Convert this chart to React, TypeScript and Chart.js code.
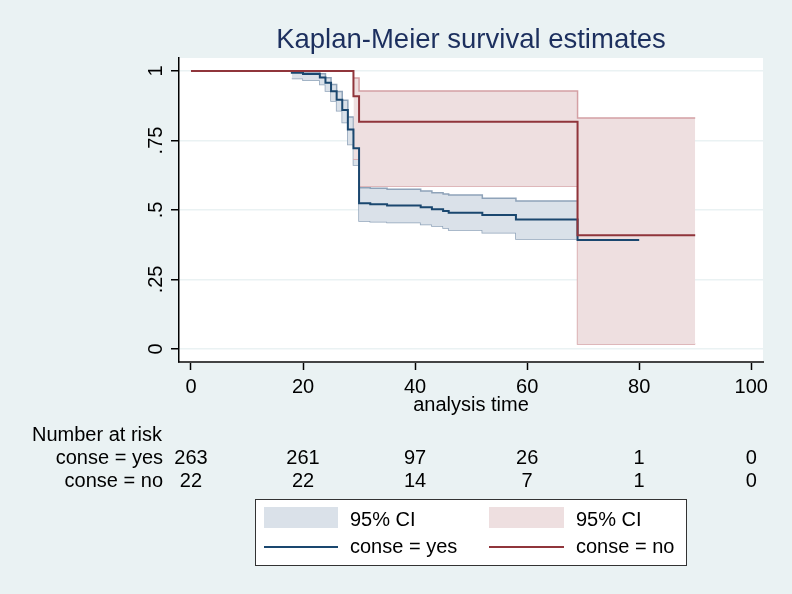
import React, { useEffect, useRef } from 'react';
import Chart from 'chart.js/auto';

// axis ticks
const xTicks = [0, 20, 40, 60, 80, 100];
const yTicks = [0, 0.25, 0.5, 0.75, 1];
const yTickLabels = ['0', '.25', '.5', '.75', '1'];

// conse = yes: KM estimate
const yesTime = [0, 18, 20, 23, 24, 25, 26, 27, 28, 29, 30, 32, 35, 41, 43, 45, 46, 52, 58, 69, 80];
const yesSurv = [1, 0.994, 0.989, 0.977, 0.958, 0.927, 0.897, 0.86, 0.79, 0.722, 0.524, 0.521, 0.516, 0.51, 0.503, 0.496, 0.49, 0.482, 0.466, 0.392, 0.392];
// conse = yes: 95% CI
const yesCiTime = [18, 20, 23, 24, 25, 26, 27, 28, 29, 30, 32, 35, 41, 43, 45, 46, 52, 58, 69];
const yesLower = [0.973, 0.967, 0.952, 0.928, 0.892, 0.857, 0.815, 0.736, 0.662, 0.46, 0.458, 0.455, 0.448, 0.442, 0.435, 0.428, 0.418, 0.396, 0.396];
const yesUpper = [0.999, 0.997, 0.99, 0.976, 0.952, 0.926, 0.895, 0.835, 0.775, 0.58, 0.578, 0.575, 0.568, 0.562, 0.558, 0.554, 0.542, 0.532, 0.532];

// conse = no: KM estimate
const noTime = [0, 29, 30, 69, 90];
const noSurv = [1, 0.909, 0.818, 0.409, 0.409];
// conse = no: 95% CI
const noCiTime = [29, 30, 69, 90];
const noLower = [0.683, 0.586, 0.018, 0.018];
const noUpper = [0.975, 0.928, 0.831, 0.831];

// number at risk table
const groupLabels = ['conse = yes', 'conse = no'];
const riskYes = [263, 261, 97, 26, 1, 0];
const riskNo = [22, 22, 14, 7, 1, 0];

const FONT = '"Liberation Sans", Arial, sans-serif';
const BG = '#eaf2f3';
const BLUE = '#1a476f';
const RED = '#90353b';
const BLUE_FILL = '#dae1e9';
const BLUE_EDGE = '#8fa3b9';
const RED_FILL = '#eedfe0';
const RED_EDGE = '#d4a0a4';

const pts = (xs: number[], ys: number[]) => xs.map((x, i) => ({ x, y: ys[i] }));

const decor = {
  id: 'kmDecor',
  beforeDraw(chart: any) {
    const { ctx, chartArea: a, width, height } = chart;
    ctx.save();
    ctx.fillStyle = BG;
    ctx.fillRect(0, 0, width, height);
    ctx.fillStyle = '#ffffff';
    ctx.fillRect(a.left, a.top, a.right - a.left, a.bottom - a.top);
    ctx.restore();
  },
  afterDraw(chart: any) {
    const { ctx, chartArea: a } = chart;
    const xs = chart.scales.x;
    const ys = chart.scales.y;
    const cx = (a.left + a.right) / 2;
    ctx.save();

    // title
    ctx.fillStyle = '#1c2f5e';
    ctx.font = `27.5px ${FONT}`;
    ctx.textAlign = 'center';
    ctx.textBaseline = 'alphabetic';
    ctx.fillText('Kaplan-Meier survival estimates', cx, 48);

    ctx.fillStyle = '#000';
    ctx.font = `20px ${FONT}`;

    // y tick labels, rotated
    yTicks.forEach((v, i) => {
      ctx.save();
      ctx.translate(162, ys.getPixelForValue(v));
      ctx.rotate(-Math.PI / 2);
      ctx.textAlign = 'center';
      ctx.fillText(yTickLabels[i], 0, 0);
      ctx.restore();
    });

    // x tick labels + axis title
    ctx.textAlign = 'center';
    xTicks.forEach((v) => ctx.fillText(String(v), xs.getPixelForValue(v), 393));
    ctx.fillText('analysis time', cx, 411);

    // number at risk
    ctx.textAlign = 'left';
    ctx.fillText('Number at risk', 32, 441);
    ctx.textAlign = 'right';
    ctx.fillText(groupLabels[0], 163, 464);
    ctx.fillText(groupLabels[1], 163, 487);
    ctx.textAlign = 'center';
    xTicks.forEach((v, i) => {
      const px = xs.getPixelForValue(v);
      ctx.fillText(String(riskYes[i]), px, 464);
      ctx.fillText(String(riskNo[i]), px, 487);
    });

    // legend box
    ctx.fillStyle = '#ffffff';
    ctx.fillRect(255, 499, 431, 66);
    ctx.strokeStyle = '#333';
    ctx.lineWidth = 1;
    ctx.strokeRect(255.5, 499.5, 431, 66);

    ctx.fillStyle = BLUE_FILL;
    ctx.fillRect(264, 507, 74, 21);
    ctx.fillStyle = RED_FILL;
    ctx.fillRect(489, 507, 75, 21);

    ctx.lineWidth = 2;
    ctx.strokeStyle = BLUE;
    ctx.beginPath();
    ctx.moveTo(264, 547);
    ctx.lineTo(338, 547);
    ctx.stroke();
    ctx.strokeStyle = RED;
    ctx.beginPath();
    ctx.moveTo(489, 547);
    ctx.lineTo(564, 547);
    ctx.stroke();

    ctx.fillStyle = '#000';
    ctx.textAlign = 'left';
    ctx.fillText('95% CI', 350, 526);
    ctx.fillText('95% CI', 576, 526);
    ctx.fillText(groupLabels[0], 350, 553);
    ctx.fillText(groupLabels[1], 576, 553);

    ctx.restore();
  },
};

const App: React.FC = () => {
  const canvasRef = useRef<HTMLCanvasElement>(null);
  const chartRef = useRef<Chart | null>(null);

  useEffect(() => {
    if (!canvasRef.current) return;
    if (chartRef.current) chartRef.current.destroy();

    const line = (data: any, color: string) => ({
      data,
      borderColor: color,
      borderWidth: 2,
      stepped: true,
      pointRadius: 0,
      fill: false,
    });
    const edge = (data: any, color: string, fill: any, bg: string) => ({
      data,
      borderColor: color,
      borderWidth: 1.5,
      backgroundColor: bg,
      stepped: true,
      pointRadius: 0,
      fill,
    });

    chartRef.current = new Chart(canvasRef.current, {
      type: 'line',
      data: {
        datasets: [
          line(pts(noTime, noSurv), RED),
          line(pts(yesTime, yesSurv), BLUE),
          edge(pts(noCiTime, noUpper), RED_EDGE, 3, RED_FILL),
          edge(pts(noCiTime, noLower), RED_EDGE, false, RED_FILL),
          edge(pts(yesCiTime, yesUpper), BLUE_EDGE, 5, BLUE_FILL),
          edge(pts(yesCiTime, yesLower), BLUE_EDGE, false, BLUE_FILL),
        ] as any,
      },
      options: {
        animation: false,
        responsive: false,
        layout: { padding: { top: 58, right: 29, left: 0, bottom: 0 } },
        plugins: { legend: { display: false }, tooltip: { enabled: false }, title: { display: false } },
        scales: {
          x: {
            type: 'linear',
            min: -2.14,
            max: 102.1,
            afterBuildTicks: (axis: any) => { axis.ticks = xTicks.map((value) => ({ value })); },
            afterFit: (axis: any) => { axis.height = 232; },
            ticks: { display: false },
            grid: { drawOnChartArea: false, tickLength: 8, tickColor: '#000', tickWidth: 1.5 },
            border: { display: true, color: '#444', width: 2 },
          },
          y: {
            type: 'linear',
            min: -0.047,
            max: 1.047,
            afterBuildTicks: (axis: any) => { axis.ticks = yTicks.map((value) => ({ value })); },
            afterFit: (axis: any) => { axis.width = 179; },
            ticks: { display: false },
            grid: { color: BG, lineWidth: 1.5, tickLength: 8, tickColor: '#000', tickWidth: 1.5 },
            border: { display: true, color: '#000', width: 1.5 },
          },
        },
      },
      plugins: [decor],
    });

    return () => {
      if (chartRef.current) {
        chartRef.current.destroy();
        chartRef.current = null;
      }
    };
  }, []);

  return (
    <div style={{ position: 'absolute', left: 0, top: 0, width: 792, height: 594, background: BG }}>
      <canvas ref={canvasRef} width={792} height={594} style={{ display: 'block' }} />
    </div>
  );
};

export default App;
